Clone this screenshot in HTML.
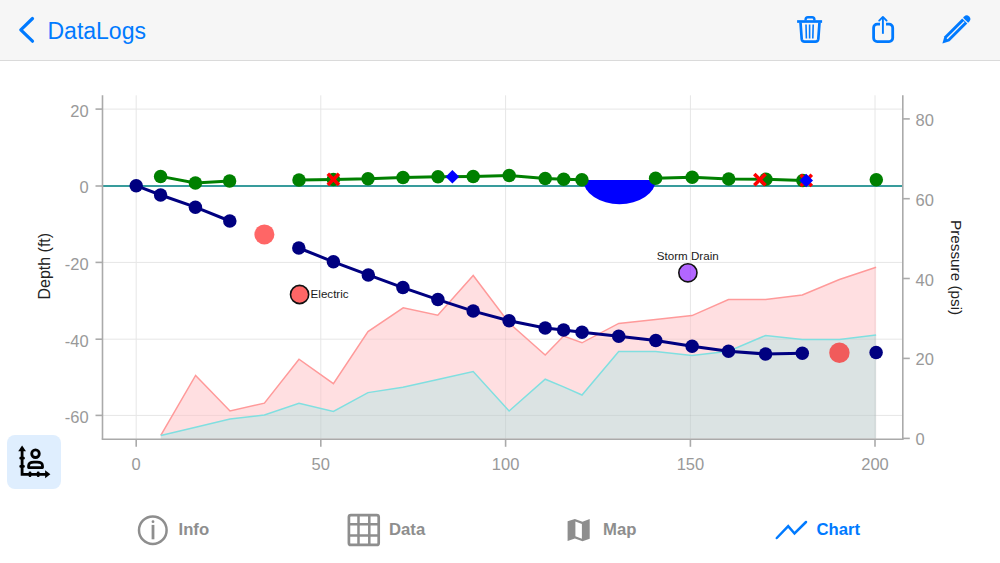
<!DOCTYPE html>
<html><head><meta charset="utf-8">
<style>
html,body{margin:0;padding:0;}
body{width:1000px;height:563px;position:relative;overflow:hidden;background:#fff;font-family:"Liberation Sans",sans-serif;}
.hdr{position:absolute;left:0;top:0;width:1000px;height:60px;background:#f6f6f6;border-bottom:1px solid #dadada;}
.title{position:absolute;left:47.5px;top:16.5px;font-size:23px;color:#007aff;line-height:28px;}
.tk{font-family:"Liberation Sans",sans-serif;font-size:16.5px;fill:#999999;}
.ax{font-family:"Liberation Sans",sans-serif;font-size:15.3px;fill:#222;}
.an{font-family:"Liberation Sans",sans-serif;font-size:11.6px;fill:#1a1a1a;}
.btn{position:absolute;left:7px;top:434.8px;width:54.2px;height:54.2px;border-radius:8px;background:#dfeefe;}
.tab{position:absolute;top:518px;font-size:16.7px;font-weight:bold;color:#8e8e8e;line-height:24px;}
</style></head><body>
<div class="hdr"></div>
<div class="title">DataLogs</div>
<div class="btn"></div>
<svg width="1000" height="563" viewBox="0 0 1000 563" style="position:absolute;left:0;top:0">
<line x1="136.2" y1="95.3" x2="136.2" y2="438.8" stroke="#e6e6e6" stroke-width="1"/><line x1="320.8" y1="95.3" x2="320.8" y2="438.8" stroke="#e6e6e6" stroke-width="1"/><line x1="505.6" y1="95.3" x2="505.6" y2="438.8" stroke="#e6e6e6" stroke-width="1"/><line x1="690.4" y1="95.3" x2="690.4" y2="438.8" stroke="#e6e6e6" stroke-width="1"/><line x1="875.0" y1="95.3" x2="875.0" y2="438.8" stroke="#e6e6e6" stroke-width="1"/><line x1="102.5" y1="109.1" x2="902.8" y2="109.1" stroke="#e6e6e6" stroke-width="1"/><line x1="102.5" y1="262.4" x2="902.8" y2="262.4" stroke="#e6e6e6" stroke-width="1"/><line x1="102.5" y1="339.2" x2="902.8" y2="339.2" stroke="#e6e6e6" stroke-width="1"/><line x1="102.5" y1="415.4" x2="902.8" y2="415.4" stroke="#e6e6e6" stroke-width="1"/>
<path d="M160.8,438.8 L160.8,435.3 L195.6,375.4 L230.0,411.0 L264.4,403.2 L299.0,359.2 L333.4,383.6 L368.0,331.6 L403.2,307.8 L437.8,315.2 L473.2,275.5 L509.1,323.0 L545.2,355.0 L563.6,336.0 L582.0,342.8 L618.7,323.4 L655.6,319.4 L692.0,315.6 L728.5,299.6 L765.6,299.6 L802.3,295.0 L839.4,279.5 L876.1,267.3 L876.1,438.8 Z" fill="#ffdfe1"/>
<path d="M160.8,438.8 L160.8,435.5 L195.6,427.2 L230.0,419.0 L264.4,415.0 L299.0,403.2 L333.4,411.5 L368.0,392.6 L402.9,387.2 L437.8,379.4 L473.2,371.5 L509.1,411.0 L545.2,379.2 L563.6,386.9 L582.0,395.0 L618.7,351.4 L655.6,351.4 L692.0,355.6 L728.5,351.2 L765.6,335.5 L802.3,339.6 L839.4,339.6 L876.1,334.9 L876.1,438.8 Z" fill="#dbe3e3"/>
<clipPath id="pc"><path d="M160.8,438.8 L160.8,435.3 L195.6,375.4 L230.0,411.0 L264.4,403.2 L299.0,359.2 L333.4,383.6 L368.0,331.6 L403.2,307.8 L437.8,315.2 L473.2,275.5 L509.1,323.0 L545.2,355.0 L563.6,336.0 L582.0,342.8 L618.7,323.4 L655.6,319.4 L692.0,315.6 L728.5,299.6 L765.6,299.6 L802.3,295.0 L839.4,279.5 L876.1,267.3 L876.1,438.8 Z"/></clipPath>
<g clip-path="url(#pc)"><line x1="136.2" y1="95.3" x2="136.2" y2="438.8" stroke="rgba(0,0,0,0.055)" stroke-width="1"/><line x1="320.8" y1="95.3" x2="320.8" y2="438.8" stroke="rgba(0,0,0,0.055)" stroke-width="1"/><line x1="505.6" y1="95.3" x2="505.6" y2="438.8" stroke="rgba(0,0,0,0.055)" stroke-width="1"/><line x1="690.4" y1="95.3" x2="690.4" y2="438.8" stroke="rgba(0,0,0,0.055)" stroke-width="1"/><line x1="875.0" y1="95.3" x2="875.0" y2="438.8" stroke="rgba(0,0,0,0.055)" stroke-width="1"/><line x1="102.5" y1="109.1" x2="902.8" y2="109.1" stroke="rgba(0,0,0,0.055)" stroke-width="1"/><line x1="102.5" y1="262.4" x2="902.8" y2="262.4" stroke="rgba(0,0,0,0.055)" stroke-width="1"/><line x1="102.5" y1="339.2" x2="902.8" y2="339.2" stroke="rgba(0,0,0,0.055)" stroke-width="1"/><line x1="102.5" y1="415.4" x2="902.8" y2="415.4" stroke="rgba(0,0,0,0.055)" stroke-width="1"/></g>
<polyline points="160.8,435.3 195.6,375.4 230.0,411.0 264.4,403.2 299.0,359.2 333.4,383.6 368.0,331.6 403.2,307.8 437.8,315.2 473.2,275.5 509.1,323.0 545.2,355.0 563.6,336.0 582.0,342.8 618.7,323.4 655.6,319.4 692.0,315.6 728.5,299.6 765.6,299.6 802.3,295.0 839.4,279.5 876.1,267.3" fill="none" stroke="#ff9a9a" stroke-width="1.5"/>
<polyline points="160.8,435.5 195.6,427.2 230.0,419.0 264.4,415.0 299.0,403.2 333.4,411.5 368.0,392.6 402.9,387.2 437.8,379.4 473.2,371.5 509.1,411.0 545.2,379.2 563.6,386.9 582.0,395.0 618.7,351.4 655.6,351.4 692.0,355.6 728.5,351.2 765.6,335.5 802.3,339.6 839.4,339.6 876.1,334.9" fill="none" stroke="#80dfe0" stroke-width="1.5"/>
<line x1="102.5" y1="186.0" x2="902.8" y2="186.0" stroke="#389c9c" stroke-width="2"/>
<line x1="102.5" y1="95.3" x2="102.5" y2="439.3" stroke="#aaaaaa" stroke-width="1.6"/>
<line x1="902.8" y1="95.3" x2="902.8" y2="439.3" stroke="#aaaaaa" stroke-width="1.6"/>
<line x1="101.7" y1="439.3" x2="903.5999999999999" y2="439.3" stroke="#aaaaaa" stroke-width="1.6"/>
<line x1="95.5" y1="109.1" x2="102.5" y2="109.1" stroke="#aaaaaa" stroke-width="1.6"/><line x1="95.5" y1="186" x2="102.5" y2="186" stroke="#aaaaaa" stroke-width="1.6"/><line x1="95.5" y1="262.4" x2="102.5" y2="262.4" stroke="#aaaaaa" stroke-width="1.6"/><line x1="95.5" y1="339.2" x2="102.5" y2="339.2" stroke="#aaaaaa" stroke-width="1.6"/><line x1="95.5" y1="415.4" x2="102.5" y2="415.4" stroke="#aaaaaa" stroke-width="1.6"/><line x1="902.8" y1="118.9" x2="909.8" y2="118.9" stroke="#aaaaaa" stroke-width="1.6"/><line x1="902.8" y1="198.7" x2="909.8" y2="198.7" stroke="#aaaaaa" stroke-width="1.6"/><line x1="902.8" y1="278.5" x2="909.8" y2="278.5" stroke="#aaaaaa" stroke-width="1.6"/><line x1="902.8" y1="358.4" x2="909.8" y2="358.4" stroke="#aaaaaa" stroke-width="1.6"/><line x1="902.8" y1="438.4" x2="909.8" y2="438.4" stroke="#aaaaaa" stroke-width="1.6"/><line x1="136.2" y1="439.3" x2="136.2" y2="446.8" stroke="#aaaaaa" stroke-width="1.6"/><line x1="320.8" y1="439.3" x2="320.8" y2="446.8" stroke="#aaaaaa" stroke-width="1.6"/><line x1="505.6" y1="439.3" x2="505.6" y2="446.8" stroke="#aaaaaa" stroke-width="1.6"/><line x1="690.4" y1="439.3" x2="690.4" y2="446.8" stroke="#aaaaaa" stroke-width="1.6"/><line x1="875.0" y1="439.3" x2="875.0" y2="446.8" stroke="#aaaaaa" stroke-width="1.6"/>
<text x="88.7" y="116.6" text-anchor="end" class="tk">20</text><text x="88.7" y="193.3" text-anchor="end" class="tk">0</text><text x="88.7" y="269.9" text-anchor="end" class="tk">-20</text><text x="88.7" y="346.7" text-anchor="end" class="tk">-40</text><text x="88.7" y="422.9" text-anchor="end" class="tk">-60</text><text x="915.5" y="125.9" class="tk">80</text><text x="915.5" y="205.7" class="tk">60</text><text x="915.5" y="285.5" class="tk">40</text><text x="915.5" y="365.4" class="tk">20</text><text x="915.5" y="445.4" class="tk">0</text><text x="136.2" y="470" text-anchor="middle" class="tk">0</text><text x="320.8" y="470" text-anchor="middle" class="tk">50</text><text x="505.6" y="470" text-anchor="middle" class="tk">100</text><text x="690.4" y="470" text-anchor="middle" class="tk">150</text><text x="875.0" y="470" text-anchor="middle" class="tk">200</text>
<text transform="translate(49.5,266.2) rotate(-90)" text-anchor="middle" class="ax" style="font-size:16px">Depth (ft)</text>
<text transform="translate(950.9,267.6) rotate(90)" text-anchor="middle" class="ax">Pressure (psi)</text>
<path d="M583.4,180 L655.6,180 A36.1,24.2 0 0 1 583.4,180 Z" fill="#0000ff"/>
<polyline points="136.2,185.7 160.6,195.0 195.4,207.2 229.8,221.0" fill="none" stroke="#000080" stroke-width="3"/>
<polyline points="298.8,248.0 333.4,261.8 368.3,274.9 402.9,287.6 437.9,299.6 473.2,311.1 509.1,320.8 545.2,328.0 563.6,330.0 582.0,332.2 618.7,336.2 655.8,340.5 692.1,346.2 728.5,351.2 765.6,354.0 802.3,353.3" fill="none" stroke="#000080" stroke-width="3"/>
<polyline points="160.6,176.4 195.4,182.9 229.6,180.9" fill="none" stroke="#008000" stroke-width="3"/>
<polyline points="299.0,180.0 333.4,179.4 368.0,178.8 403.0,177.4 438.0,176.8 473.2,176.4 509.2,175.4 545.2,178.5 563.7,179.2 581.9,179.7" fill="none" stroke="#008000" stroke-width="3"/>
<polyline points="655.6,178.2 692.2,177.3 728.7,179.1 765.9,179.2 802.9,180.4" fill="none" stroke="#008000" stroke-width="3"/>
<circle cx="160.6" cy="176.4" r="6.75" fill="#008000" /><circle cx="195.4" cy="182.9" r="6.75" fill="#008000" /><circle cx="229.6" cy="180.9" r="6.75" fill="#008000" /><circle cx="299.0" cy="180.0" r="6.75" fill="#008000" /><circle cx="333.4" cy="179.4" r="6.75" fill="#008000" /><circle cx="368.0" cy="178.8" r="6.75" fill="#008000" /><circle cx="403.0" cy="177.4" r="6.75" fill="#008000" /><circle cx="438.0" cy="176.8" r="6.75" fill="#008000" /><circle cx="473.2" cy="176.4" r="6.75" fill="#008000" /><circle cx="509.2" cy="175.4" r="6.75" fill="#008000" /><circle cx="545.2" cy="178.5" r="6.75" fill="#008000" /><circle cx="563.7" cy="179.2" r="6.75" fill="#008000" /><circle cx="581.9" cy="179.7" r="6.75" fill="#008000" /><circle cx="655.6" cy="178.2" r="6.75" fill="#008000" /><circle cx="692.2" cy="177.3" r="6.75" fill="#008000" /><circle cx="728.7" cy="179.1" r="6.75" fill="#008000" /><circle cx="765.9" cy="179.2" r="6.75" fill="#008000" /><circle cx="802.9" cy="180.4" r="6.75" fill="#008000" /><circle cx="876.3" cy="179.7" r="6.75" fill="#008000" />
<circle cx="136.2" cy="185.7" r="6.75" fill="#000080" /><circle cx="160.6" cy="195.0" r="6.75" fill="#000080" /><circle cx="195.4" cy="207.2" r="6.75" fill="#000080" /><circle cx="229.8" cy="221.0" r="6.75" fill="#000080" /><circle cx="298.8" cy="248.0" r="6.75" fill="#000080" /><circle cx="333.4" cy="261.8" r="6.75" fill="#000080" /><circle cx="368.3" cy="274.9" r="6.75" fill="#000080" /><circle cx="402.9" cy="287.6" r="6.75" fill="#000080" /><circle cx="437.9" cy="299.6" r="6.75" fill="#000080" /><circle cx="473.2" cy="311.1" r="6.75" fill="#000080" /><circle cx="509.1" cy="320.8" r="6.75" fill="#000080" /><circle cx="545.2" cy="328.0" r="6.75" fill="#000080" /><circle cx="563.6" cy="330.0" r="6.75" fill="#000080" /><circle cx="582.0" cy="332.2" r="6.75" fill="#000080" /><circle cx="618.7" cy="336.2" r="6.75" fill="#000080" /><circle cx="655.8" cy="340.5" r="6.75" fill="#000080" /><circle cx="692.1" cy="346.2" r="6.75" fill="#000080" /><circle cx="728.5" cy="351.2" r="6.75" fill="#000080" /><circle cx="765.6" cy="354.0" r="6.75" fill="#000080" /><circle cx="802.3" cy="353.3" r="6.75" fill="#000080" /><circle cx="876.1" cy="352.6" r="6.75" fill="#000080" />
<path d="M327.8,173.8 L339.0,185.0 M327.8,185.0 L339.0,173.8" stroke="#ff0000" stroke-width="3.6" fill="none"/>
<path d="M452.4,170.0 L459.2,176.8 L452.4,183.6 L445.6,176.8 Z" fill="#0000ff"/>
<path d="M754.3,174.0 L765.5,185.2 M754.3,185.2 L765.5,174.0" stroke="#ff0000" stroke-width="3.6" fill="none"/>
<path d="M800.6,174.8 L811.8,186.0 M800.6,186.0 L811.8,174.8" stroke="#ff0000" stroke-width="3.6" fill="none"/>
<path d="M806.2,173.7 L813.0,180.5 L806.2,187.3 L799.4,180.5 Z" fill="#0000ff"/>
<circle cx="264.4" cy="234.4" r="10" fill="#ff0000" fill-opacity="0.6"/>
<circle cx="839.4" cy="352.7" r="10.2" fill="#ff0000" fill-opacity="0.6"/>
<circle cx="299.6" cy="294.5" r="9.1" fill="#ff0000" fill-opacity="0.6" stroke="#111" stroke-width="1.6"/>
<circle cx="687.9" cy="272.8" r="9.1" fill="#7f00ff" fill-opacity="0.6" stroke="#111" stroke-width="1.6"/>
<text x="310.6" y="298.4" class="an">Electric</text>
<text x="687.8" y="260.4" text-anchor="middle" class="an">Storm Drain</text>
</svg>
<svg width="1000" height="563" viewBox="0 0 1000 563" style="position:absolute;left:0;top:0">
<!-- back chevron -->
<path d="M32.5,18.5 L20.8,29.8 L32.5,41.2" fill="none" stroke="#007aff" stroke-width="3.2" stroke-linecap="round" stroke-linejoin="round"/>
<!-- trash -->
<g fill="none" stroke="#007aff">
<line x1="797.1" y1="21.5" x2="822.1" y2="21.5" stroke-width="2.7"/>
<path d="M805.6,20.5 V19.5 a2.3,2.3 0 0 1 2.3,-2.3 h4.2 a2.3,2.3 0 0 1 2.3,2.3 V20.5" stroke-width="2.4"/>
<path d="M800.5,22.5 L801.7,39.2 Q802,41.7 804.6,41.7 L815.4,41.7 Q818,41.7 818.3,39.2 L819.5,22.5" stroke-width="2.7"/>
<path d="M806,24.5 L806.4,38.5 M809.6,24.5 V38.5 M813.2,24.5 L812.8,38.5" stroke-width="1.6"/>
</g>
<!-- share -->
<g fill="none" stroke="#007aff">
<path d="M880,24.2 H877.2 a3.6,3.6 0 0 0 -3.6,3.6 V38 a3.6,3.6 0 0 0 3.6,3.6 H889.1 a3.6,3.6 0 0 0 3.6,-3.6 V27.8 a3.6,3.6 0 0 0 -3.6,-3.6 H886" stroke-width="2.8"/>
<path d="M882.9,17.2 V33.8" stroke-width="1.9"/>
<path d="M879.2,20.6 L882.9,16.9 L886.6,20.6" stroke-width="1.9" stroke-linecap="round" stroke-linejoin="round"/>
</g>
<!-- pencil -->
<g transform="translate(942.4,43.4) rotate(-45)">
<path d="M0,0 L6.5,-3.6 L31.6,-3.6 L31.6,3.6 L6.5,3.6 Z" fill="#007aff"/>
<path d="M32.8,-3.6 L34.3,-3.6 A3.6,3.6 0 0 1 34.3,3.6 L32.8,3.6 Z" fill="#007aff"/>
<line x1="6.6" y1="0" x2="30.8" y2="0" stroke="#f6f6f6" stroke-width="1.4"/>
</g>
<!-- chart-axes button icon -->
<g fill="none" stroke="#000" stroke-width="2.8">
<path d="M22.1,449.5 V474.3 H46"/>
<path d="M28.6,467.6 V466 C28.6,463.6 30.8,462.2 34,462.2 H37.1 C40.3,462.2 42.5,463.6 42.5,466 V467.6 Z" stroke-linejoin="round"/>
<circle cx="35.5" cy="453.7" r="3.8"/>
</g>
<g fill="#000">
<path d="M22.1,445.6 L26,451.2 L18.2,451.2 Z"/>
<path d="M50.4,474.3 L45.1,470.3 L45.1,478.3 Z"/>
<rect x="19.4" y="456.7" width="5.4" height="2.8" rx="1.2"/>
<rect x="19.4" y="464.9" width="5.4" height="2.8" rx="1.2"/>
<rect x="28.6" y="471.6" width="2.8" height="5.4" rx="1.2"/>
<rect x="36.8" y="471.6" width="2.8" height="5.4" rx="1.2"/>
</g>
<!-- info icon -->
<circle cx="152.8" cy="530.2" r="13.8" fill="none" stroke="#8e8e8e" stroke-width="2.5"/>
<circle cx="153" cy="521.7" r="1.4" fill="#8e8e8e"/>
<line x1="153" y1="524.9" x2="153" y2="539.3" stroke="#8e8e8e" stroke-width="2.8"/>
<!-- data grid icon -->
<g fill="none" stroke="#8e8e8e" stroke-width="2.4">
<rect x="348.9" y="515.1" width="29.8" height="29.8" rx="2" stroke-width="2.7"/>
<path d="M358.5,515 V545 M369.3,515 V545 M348.8,524.3 H378.8 M348.8,535.5 H378.8" stroke-width="2.5"/>
</g>
<!-- map icon -->
<path d="M567.6,521.3 L574.9,519 L582.5,521.7 L589.7,519 L589.7,538.8 L582.5,541.3 L574.9,538.6 L567.6,541.1 Z" fill="#8e8e8e"/>
<path d="M575.4,521.4 L581.9,523.9 L581.9,538.7 L575.4,536.2 Z" fill="#fff"/>
<!-- chart tab icon -->
<polyline points="776.8,538 788.2,526.2 794.5,533.5 806,522" fill="none" stroke="#007aff" stroke-width="2.5" stroke-linecap="round" stroke-linejoin="miter"/>
</svg>
<div class="tab" style="left:178.5px">Info</div>
<div class="tab" style="left:389px">Data</div>
<div class="tab" style="left:603px">Map</div>
<div class="tab" style="left:816.5px;color:#007aff">Chart</div>
</body></html>
